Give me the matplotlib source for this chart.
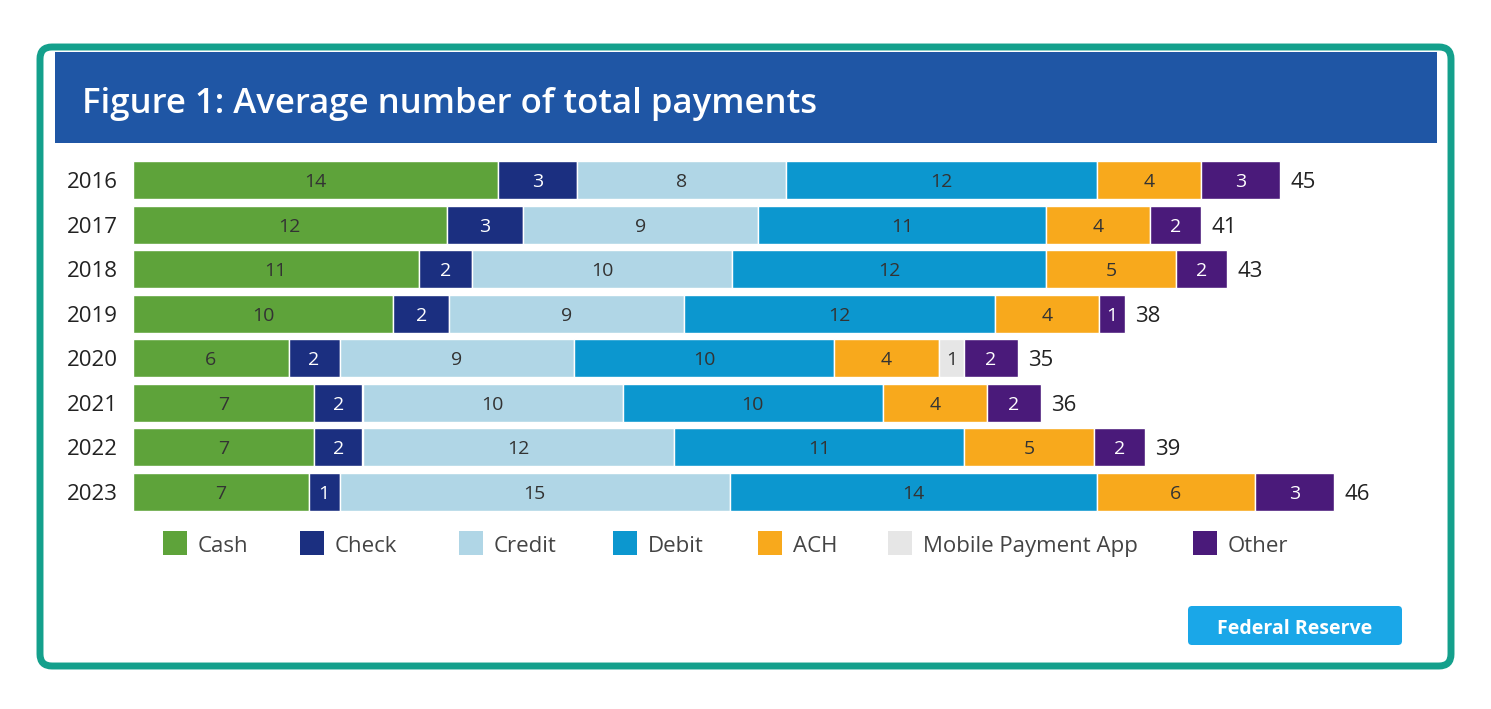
import matplotlib.pyplot as plt
from matplotlib.patches import FancyBboxPatch, Rectangle

years = ["2016", "2017", "2018", "2019", "2020", "2021", "2022", "2023"]
methods = ["Cash", "Check", "Credit", "Debit", "ACH", "Mobile Payment App", "Other"]
# bar lengths
cash = [14.3, 12.3, 11.2, 10.2, 6.1, 7.1, 7.1, 6.9]
check = [3.1, 3.0, 2.1, 2.2, 2.0, 1.9, 1.9, 1.2]
credit = [8.2, 9.2, 10.2, 9.2, 9.2, 10.2, 12.2, 15.3]
debit = [12.2, 11.3, 12.3, 12.2, 10.2, 10.2, 11.4, 14.4]
ach = [4.1, 4.1, 5.1, 4.1, 4.1, 4.1, 5.1, 6.2]
mobile = [0, 0, 0, 0, 1.0, 0, 0, 0]
other = [3.1, 2.0, 2.0, 1.0, 2.1, 2.1, 2.0, 3.1]
# printed labels
cash_lab = [14, 12, 11, 10, 6, 7, 7, 7]
check_lab = [3, 3, 2, 2, 2, 2, 2, 1]
credit_lab = [8, 9, 10, 9, 9, 10, 12, 15]
debit_lab = [12, 11, 12, 12, 10, 10, 11, 14]
ach_lab = [4, 4, 5, 4, 4, 4, 5, 6]
mobile_lab = [0, 0, 0, 0, 1, 0, 0, 0]
other_lab = [3, 2, 2, 1, 2, 2, 2, 3]
totals = [45, 41, 43, 38, 35, 36, 39, 46]

COLORS = ["#5ea33a", "#1b2f80", "#b0d6e6", "#0c97cf", "#f8a91c", "#e6e6e6", "#4a1a7a"]
TXT = ["#333333", "white", "#333333", "#333333", "#333333", "#333333", "white"]
series = [cash, check, credit, debit, ach, mobile, other]
labels = [cash_lab, check_lab, credit_lab, debit_lab, ach_lab, mobile_lab, other_lab]

W, H = 1491, 709
plt.rcParams["font.family"] = "Open Sans"
fig = plt.figure(figsize=(W / 100, H / 100), dpi=100)
fig.patch.set_facecolor("white")

# frame, banner, badge in pixel coords
bg = fig.add_axes([0, 0, 1, 1])
bg.set_xlim(0, W)
bg.set_ylim(H, 0)
bg.axis("off")
bg.add_patch(FancyBboxPatch((40, 47), 1411, 619, boxstyle="round,pad=0,rounding_size=12",
                            fc="white", ec="#14a08c", lw=5))
bg.add_patch(Rectangle((55, 52), 1382, 91, fc="#1f56a5", ec="none"))
bg.text(82, 100, "Figure 1: Average number of total payments", color="white",
        fontsize=25, fontweight="semibold", va="center_baseline", ha="left")
bg.add_patch(FancyBboxPatch((1188, 606), 214, 39, boxstyle="round,pad=0,rounding_size=4",
                            fc="#1aa7e8", ec="none"))
bg.text(1295, 626, "Federal Reserve", color="white", fontsize=14, fontweight="bold",
        ha="center", va="center_baseline")

ax = fig.add_axes([133 / W, 1 - 514 / H, (1437 - 133) / W, 356 / H])
ax.set_xlim(0, (1437 - 133) / 25.5)
ax.set_ylim(7.5, -0.5)
ax.axis("off")
for i, y in enumerate(years):
    left = 0
    for k, s in enumerate(series):
        v = s[i]
        if v > 0:
            ax.barh(i, v, left=left, height=0.86, color=COLORS[k], edgecolor="white", lw=1)
            ax.text(left + v / 2, i, str(labels[k][i]), ha="center", va="center_baseline",
                    color=TXT[k], fontsize=14)
        left += v
    ax.text(left + 0.4, i, str(totals[i]), ha="left", va="center_baseline", fontsize=16, color="#222")
    ax.text(-0.6, i, y, ha="right", va="center_baseline", fontsize=16, color="#222")

# legend
lx = [163, 300, 459, 613, 758, 888, 1193]
for k, m in enumerate(methods):
    bg.add_patch(Rectangle((lx[k], 531), 24, 24, fc=COLORS[k], ec="none"))
    bg.text(lx[k] + 35, 544, m, fontsize=16, va="center_baseline", ha="left", color="#444")

fig.savefig("out.png", dpi=100)
